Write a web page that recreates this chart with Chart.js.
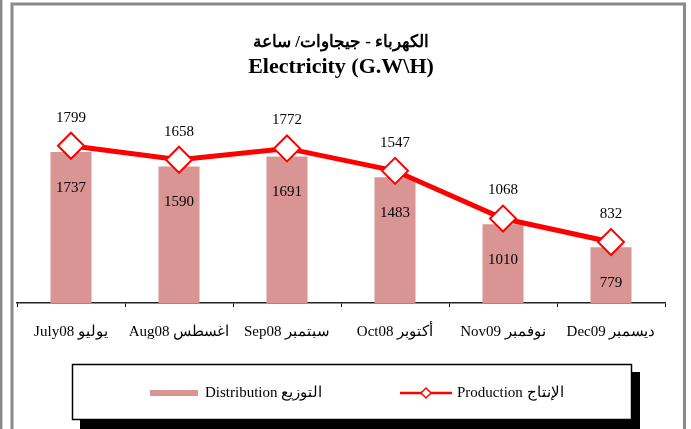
<!DOCTYPE html>
<html><head><meta charset="utf-8">
<script src="https://cdn.jsdelivr.net/npm/chart.js@4/dist/chart.umd.min.js"></script>
<style>html,body{margin:0;padding:0;background:#fff}#wrap{width:691px;height:429px;position:relative}</style>
</head><body><div id="wrap"><canvas id="c" width="691" height="429"></canvas></div>
<script>
const categories = ['July08 يوليو', 'Aug08 اغسطس', 'Sep08 سبتمبر', 'Oct08 أكتوبر', 'Nov09 نوفمبر', 'Dec09 ديسمبر'];
const distribution = [1737, 1590, 1691, 1483, 1010, 779];
const production = [1799, 1658, 1772, 1547, 1068, 832];
const seriesNames = ['Distribution التوزيع', 'Production الإنتاج'];
const titleLines = ['الكهرباء - جيجاوات/ ساعة', 'Electricity (G.W\\H)'];

const SERIF = '"Liberation Serif", "Times New Roman", serif';
const PINK = '#D99594';
const RED = '#FF0000';

const framePlugin = {
  id: 'frame',
  beforeDraw(chart) {
    const ctx = chart.ctx;
    ctx.save();
    ctx.fillStyle = '#fff';
    ctx.fillRect(0, 0, chart.width, chart.height);
    ctx.strokeStyle = '#8a8a8a';
    ctx.lineWidth = 2.5;
    ctx.beginPath(); ctx.moveTo(1.2, 0); ctx.lineTo(1.2, chart.height); ctx.stroke();
    ctx.lineWidth = 3;
    ctx.strokeRect(12, 4, 672.5, 460);
    ctx.restore();
  }
};

const valueLabels = {
  id: 'valueLabels',
  afterDatasetsDraw(chart) {
    const ctx = chart.ctx;
    ctx.save();
    ctx.font = '15px ' + SERIF;
    ctx.fillStyle = '#000';
    ctx.textAlign = 'center';
    ctx.textBaseline = 'middle';
    const d0 = chart.data.datasets[0].data, d1 = chart.data.datasets[1].data;
    chart.getDatasetMeta(0).data.forEach((el, i) => {
      ctx.fillText(String(d0[i]), el.x, el.y + 36);
    });
    chart.getDatasetMeta(1).data.forEach((el, i) => {
      ctx.fillText(String(d1[i]), el.x, el.y - 28);
    });
    ctx.restore();
  }
};

const legendBox = {
  id: 'legendBox',
  afterDraw(chart) {
    const ctx = chart.ctx;
    const ds = chart.data.datasets;
    ctx.save();
    ctx.fillStyle = '#000';
    ctx.fillRect(80, 372, 560, 57);
    ctx.fillStyle = '#fff';
    ctx.fillRect(72, 364, 560, 56);
    ctx.strokeStyle = '#000';
    ctx.lineWidth = 1.5;
    ctx.strokeRect(72.5, 364.5, 559, 55);
    const cy = 393;
    ctx.strokeStyle = ds[0].backgroundColor;
    ctx.lineWidth = 6;
    ctx.beginPath(); ctx.moveTo(150, cy); ctx.lineTo(198, cy); ctx.stroke();
    ctx.strokeStyle = ds[1].borderColor;
    ctx.lineWidth = 2.5;
    ctx.beginPath(); ctx.moveTo(400, cy); ctx.lineTo(452, cy); ctx.stroke();
    ctx.fillStyle = '#fff';
    ctx.lineWidth = 1.5;
    ctx.beginPath();
    ctx.moveTo(426, cy - 5); ctx.lineTo(431, cy); ctx.lineTo(426, cy + 5); ctx.lineTo(421, cy); ctx.closePath();
    ctx.fill(); ctx.stroke();
    ctx.fillStyle = '#000';
    ctx.font = '15px ' + SERIF;
    ctx.textAlign = 'left';
    ctx.textBaseline = 'middle';
    ctx.fillText(ds[0].label, 205, cy);
    ctx.fillText(ds[1].label, 457, cy);
    ctx.restore();
  }
};

new Chart(document.getElementById('c'), {
  type: 'bar',
  data: {
    labels: categories,
    datasets: [
      { type: 'bar', label: seriesNames[0], data: distribution, backgroundColor: PINK,
        barPercentage: 0.38, categoryPercentage: 1, order: 2 },
      { type: 'line', label: seriesNames[1], data: production, borderColor: RED, borderWidth: 5,
        pointStyle: 'rectRot', pointRadius: 13, pointBackgroundColor: '#fff',
        pointBorderColor: RED, pointBorderWidth: 2, tension: 0, order: 1 }
    ]
  },
  options: {
    responsive: false,
    animation: false,
    layout: { padding: { left: 17, right: 26, top: 0, bottom: 72 } },
    plugins: {
      legend: { display: false },
      tooltip: { enabled: false },
      title: { display: true, text: titleLines[0], color: '#000',
        font: { family: SERIF, size: 17, weight: 'bold' }, padding: { top: 32, bottom: 2 } },
      subtitle: { display: true, text: titleLines[1], color: '#000',
        font: { family: SERIF, size: 22, weight: 'bold' }, padding: { top: 0, bottom: 25 } }
    },
    scales: {
      x: {
        grid: { display: true, drawOnChartArea: false, drawTicks: true, tickLength: 4, color: '#000', offset: true },
        border: { display: true, color: '#222', width: 1.5 },
        ticks: { font: { family: SERIF, size: 15 }, color: '#000', padding: 16, maxRotation: 0, autoSkip: false }
      },
      y: { display: false, min: 220, max: 2200 }
    }
  },
  plugins: [framePlugin, valueLabels, legendBox]
});
</script>
</body></html>
